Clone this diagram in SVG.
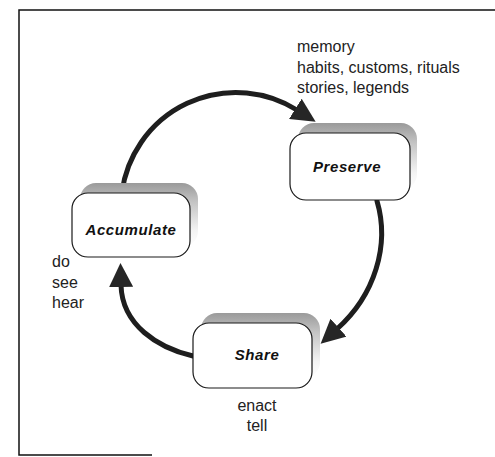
<svg xmlns="http://www.w3.org/2000/svg" width="495" height="457" viewBox="0 0 495 457">
  <style>
    .frame { fill: none; stroke: #111; stroke-width: 1.5; }
    .shadow { fill: url(#shadeGrad); stroke: none; }
    .box { fill: #fff; stroke: #1a1a1a; stroke-width: 1.2; }
    .title { font-family: "Liberation Sans", Arial, sans-serif; font-size: 15px; font-weight: bold; font-style: italic; fill: #111; letter-spacing: 0.6px; text-anchor: middle; }
    .note { font-family: "Liberation Sans", Arial, sans-serif; font-size: 16px; fill: #222; }
    .flow { fill: none; stroke: #1e1e1e; stroke-width: 5; stroke-linecap: round; }
  </style>
  <defs>
    <!-- bevel shade behind each box: darker at the top edge, fading out down the right side -->
    <linearGradient id="shadeGrad" x1="0" y1="0" x2="0" y2="1">
      <stop offset="0" stop-color="#9a9a9a"/>
      <stop offset="0.3" stop-color="#c4c4c4"/>
      <stop offset="0.75" stop-color="#f4f4f4"/>
      <stop offset="1" stop-color="#ffffff"/>
    </linearGradient>
    <marker id="head" markerUnits="userSpaceOnUse" markerWidth="26" markerHeight="24" refX="2" refY="12" orient="auto">
      <path d="M0,0 L24,12 L0,24 z" fill="#262626"/>
    </marker>
  </defs>

  <!-- page frame -->
  <g id="frame">
    <path class="frame" d="M495,10 L19,10 L19,455 L152,455"/>
  </g>

  <!-- cycle connectors -->
  <g id="connectors">
    <path class="flow" d="M122,192 A115,115 0 0 1 297,110" marker-end="url(#head)"/>
    <path class="flow" d="M377,201 C390,245 375,295 337,329" marker-end="url(#head)"/>
    <path class="flow" d="M193,356 C158,348 122,325 121,285" marker-end="url(#head)"/>
  </g>

  <g id="accumulate">
    <rect class="shadow" x="80" y="183" width="118" height="64" rx="16"/>
    <rect class="box" x="72" y="193" width="118" height="64" rx="16"/>
    <text class="title" x="131" y="235">Accumulate</text>
  </g>

  <g id="preserve">
    <rect class="shadow" x="298" y="123" width="119" height="67" rx="16"/>
    <rect class="box" x="290" y="133" width="120" height="67" rx="16"/>
    <text class="title" x="347" y="172">Preserve</text>
  </g>

  <g id="share">
    <rect class="shadow" x="201" y="313" width="119" height="65" rx="16"/>
    <rect class="box" x="193" y="323" width="119" height="65" rx="16"/>
    <text class="title" x="257" y="360">Share</text>
  </g>

  <g id="notes">
    <text class="note" x="297" y="52">memory</text>
    <text class="note" x="297" y="73">habits, customs, rituals</text>
    <text class="note" x="297" y="93">stories, legends</text>
    <text class="note" x="52" y="267">do</text>
    <text class="note" x="52" y="288">see</text>
    <text class="note" x="52" y="308">hear</text>
    <text class="note" x="257" y="411" text-anchor="middle">enact</text>
    <text class="note" x="257" y="431" text-anchor="middle">tell</text>
  </g>
</svg>
